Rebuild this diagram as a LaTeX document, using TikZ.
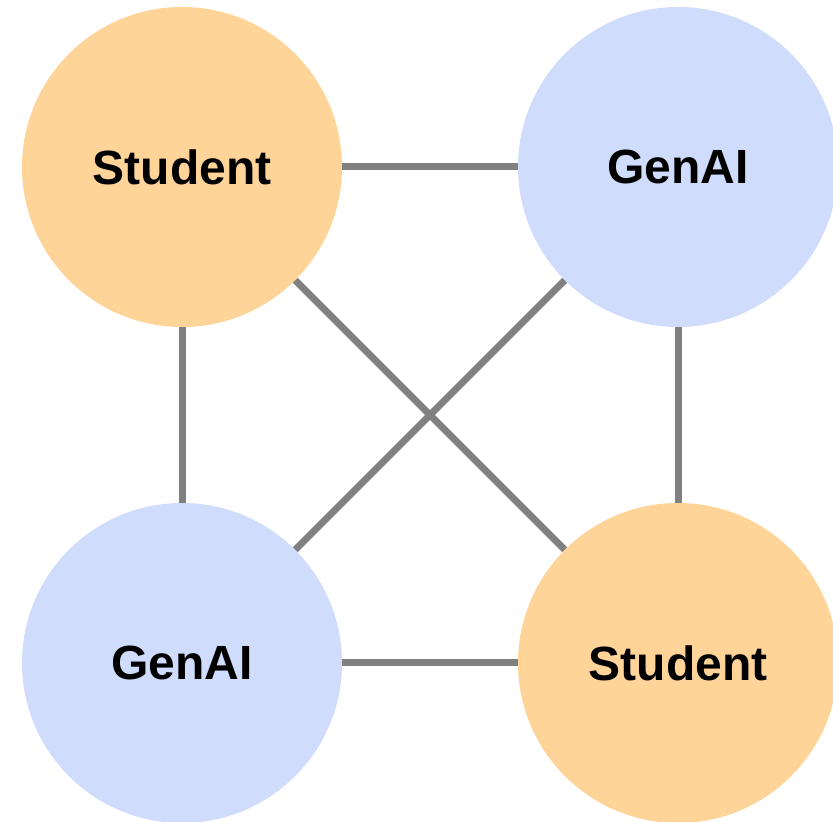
\documentclass[tikz,border=0pt]{standalone}
\usepackage{fontspec}
\setmainfont{Liberation Sans}
\usetikzlibrary{positioning}
\definecolor{studentorange}{RGB}{254,212,153}
\definecolor{genaiblue}{RGB}{207,220,252}
\definecolor{linkgray}{RGB}{128,128,128}
\begin{document}
\begin{tikzpicture}[x=1pt, y=1pt]
        \tikzstyle{agent}=[circle, draw=none, minimum size=320pt, inner sep=0pt, font=\fontsize{48}{57}\selectfont\bfseries]
        \tikzstyle{link}=[linkgray, line width=7pt]

        \useasboundingbox (0,0) rectangle (833,822);

        % Four agents
        \node[agent, fill=studentorange] (s1) at (182,655) {Student};
        \node[agent, fill=genaiblue] (g1) at (678,655) {GenAI};
        \node[agent, fill=genaiblue] (g2) at (182,159) {GenAI};
        \node[agent, fill=studentorange] (s2) at (678,159) {Student};

        % Links between every pair
        \draw[link] (s1) -- (g1);
        \draw[link] (s1) -- (g2);
        \draw[link] (g1) -- (s2);
        \draw[link] (g2) -- (s2);
        \draw[link] (s1) -- (s2);
        \draw[link] (g1) -- (g2);
    \end{tikzpicture}
\end{document}
